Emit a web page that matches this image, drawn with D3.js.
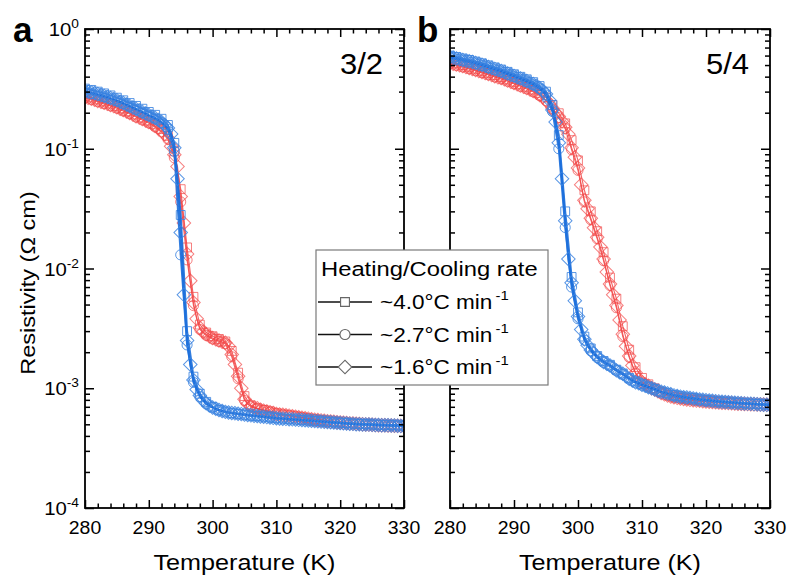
<!DOCTYPE html>
<html>
<head>
<meta charset="utf-8">
<script src="https://cdn.jsdelivr.net/npm/d3@7"></script>
<style>
  body { margin: 0; background: #fff; }
  svg { font-family: Arial, "Liberation Sans", Helvetica, sans-serif; }
</style>
</head>
<body>
<svg id="chart" width="790" height="578"></svg>
<script>
// Temperature grids (K) used by the measurements
const tempsFine = d3.range(280, 330.001, 0.5);   // ~1.6 °C/min runs
const tempsCoarse = d3.range(280, 330.001, 1);   // ~4.0 and ~2.7 °C/min runs

const xTicksMajor = [280, 290, 300, 310, 320, 330];
const yDecades = [-4, -3, -2, -1, 0];
const rateLabels = ["~4.0°C min", "~2.7°C min", "~1.6°C min"];
const panelNames = ["3/2", "5/4"];
const panelLetters = ["a", "b"];

// ---- Panel a (3/2): resistivity in Ω cm ----
const a_heat_sq = [0.276,0.268,0.258,0.248,0.238,0.228,0.217,0.205,0.193,0.182,
  0.172,0.160,0.146,0.128,0.095,0.046,0.0150,0.0058,0.0034,0.00292,
  2.72e-3,2.58e-3,2.46e-3,2.05e-3,1.35e-3,8.6e-4,7.2e-4,6.8e-4,6.6e-4,6.4e-4,
  6.2e-4,6.05e-4,5.95e-4,5.84e-4,5.73e-4,5.62e-4,5.52e-4,5.44e-4,5.36e-4,5.29e-4,
  5.22e-4,5.16e-4,5.1e-4,5.06e-4,5.02e-4,4.99e-4,4.96e-4,4.94e-4,4.92e-4,4.9e-4,
  4.88e-4];
const a_heat_ci = [0.265,0.258,0.248,0.238,0.228,0.218,0.207,0.196,0.184,0.174,
  0.164,0.152,0.138,0.120,0.084,0.036,0.0118,0.0049,0.0031,0.00276,
  2.58e-3,2.46e-3,2.36e-3,1.83e-3,1.20e-3,7.9e-4,7.0e-4,6.75e-4,6.55e-4,6.35e-4,
  6.12e-4,6.0e-4,5.9e-4,5.78e-4,5.67e-4,5.56e-4,5.46e-4,5.38e-4,5.3e-4,5.23e-4,
  5.17e-4,5.11e-4,5.06e-4,5.02e-4,4.98e-4,4.95e-4,4.92e-4,4.9e-4,4.88e-4,4.86e-4,
  4.84e-4];
const a_heat_di = [0.270,0.266,0.262,0.257,0.251,0.247,0.242,0.237,0.232,0.227,
  0.222,0.216,0.211,0.205,0.199,0.193,0.187,0.182,0.177,0.172,
  0.167,0.162,0.155,0.148,0.141,0.133,0.123,0.105,0.089,0.071,
  0.040,0.024,0.0132,0.0079,0.0052,0.0038,0.0032,0.00295,0.00282,0.00272,
  0.00263,0.00257,0.00251,0.00245,0.00240,0.00224,0.00191,0.00158,0.00126,0.00100,
  8.1e-4,7.4e-4,7.1e-4,6.9e-4,6.8e-4,6.6e-4,6.5e-4,6.4e-4,6.3e-4,6.2e-4,
  6.1e-4,6.05e-4,6.0e-4,5.95e-4,5.9e-4,5.84e-4,5.78e-4,5.73e-4,5.67e-4,5.62e-4,
  5.57e-4,5.52e-4,5.47e-4,5.43e-4,5.39e-4,5.35e-4,5.31e-4,5.27e-4,5.24e-4,5.21e-4,
  5.18e-4,5.15e-4,5.12e-4,5.09e-4,5.07e-4,5.05e-4,5.03e-4,5.01e-4,4.99e-4,4.97e-4,
  4.95e-4,4.94e-4,4.92e-4,4.91e-4,4.90e-4,4.89e-4,4.88e-4,4.87e-4,4.86e-4,4.85e-4,
  4.84e-4];
const a_cool_sq = [0.318,0.310,0.300,0.290,0.279,0.267,0.254,0.241,0.228,0.216,
  0.203,0.192,0.178,0.158,0.112,0.028,0.0030,0.00125,0.00090,0.00077,
  7.0e-4,6.6e-4,6.4e-4,6.2e-4,6.1e-4,6.0e-4,5.9e-4,5.85e-4,5.8e-4,5.72e-4,
  5.65e-4,5.6e-4,5.54e-4,5.49e-4,5.44e-4,5.39e-4,5.34e-4,5.3e-4,5.25e-4,5.2e-4,
  5.16e-4,5.12e-4,5.08e-4,5.05e-4,5.02e-4,5.0e-4,4.97e-4,4.95e-4,4.93e-4,4.91e-4,
  4.9e-4];
const a_cool_ci = [0.296,0.289,0.281,0.272,0.262,0.251,0.238,0.226,0.213,0.201,
  0.189,0.178,0.165,0.146,0.095,0.013,0.0023,0.00112,0.00085,0.00074,
  6.9e-4,6.55e-4,6.33e-4,6.2e-4,6.1e-4,6.0e-4,5.92e-4,5.84e-4,5.76e-4,5.68e-4,
  5.6e-4,5.55e-4,5.5e-4,5.45e-4,5.4e-4,5.35e-4,5.3e-4,5.25e-4,5.2e-4,5.16e-4,
  5.12e-4,5.08e-4,5.04e-4,5.0e-4,4.97e-4,4.94e-4,4.92e-4,4.9e-4,4.88e-4,4.86e-4,
  4.84e-4];
const a_cool_di = [0.303,0.299,0.295,0.291,0.286,0.281,0.276,0.271,0.265,0.259,
  0.254,0.247,0.241,0.234,0.228,0.221,0.215,0.209,0.203,0.197,
  0.191,0.186,0.181,0.174,0.167,0.158,0.149,0.133,0.102,0.0562,
  0.0200,0.00603,0.00251,0.00158,0.00117,9.77e-4,8.71e-4,7.94e-4,7.50e-4,7.16e-4,
  6.92e-4,6.73e-4,6.58e-4,6.46e-4,6.35e-4,6.28e-4,6.22e-4,6.17e-4,6.12e-4,6.08e-4,
  6.03e-4,5.98e-4,5.94e-4,5.90e-4,5.86e-4,5.82e-4,5.78e-4,5.74e-4,5.70e-4,5.66e-4,
  5.62e-4,5.60e-4,5.57e-4,5.55e-4,5.52e-4,5.50e-4,5.47e-4,5.45e-4,5.42e-4,5.40e-4,
  5.37e-4,5.35e-4,5.32e-4,5.30e-4,5.27e-4,5.25e-4,5.22e-4,5.20e-4,5.18e-4,5.15e-4,
  5.13e-4,5.11e-4,5.08e-4,5.06e-4,5.04e-4,5.01e-4,5.00e-4,4.99e-4,4.98e-4,4.97e-4,
  4.95e-4,4.94e-4,4.93e-4,4.92e-4,4.91e-4,4.90e-4,4.89e-4,4.88e-4,4.86e-4,4.85e-4,
  4.84e-4];

// ---- Panel b (5/4): resistivity in Ω cm ----
const b_heat_sq = [0.532,0.516,0.500,0.483,0.465,0.447,0.430,0.412,0.396,0.379,
  0.362,0.345,0.329,0.312,0.292,0.268,0.232,0.198,0.163,0.118,
  0.080,0.045,0.030,0.0205,0.0137,0.0084,0.0056,0.0033,0.0021,0.0015,
  1.22e-3,1.08e-3,1.0e-3,9.3e-4,8.8e-4,8.5e-4,8.3e-4,8.1e-4,8.0e-4,7.9e-4,
  7.82e-4,7.75e-4,7.68e-4,7.62e-4,7.56e-4,7.5e-4,7.46e-4,7.42e-4,7.39e-4,7.36e-4,
  7.33e-4];
const b_heat_ci = [0.512,0.497,0.482,0.466,0.449,0.432,0.415,0.398,0.383,0.366,
  0.349,0.332,0.316,0.299,0.278,0.252,0.215,0.182,0.147,0.098,
  0.066,0.036,0.0255,0.0177,0.0116,0.0072,0.0047,0.0027,0.00181,0.00133,
  1.11e-3,1.04e-3,9.7e-4,9.1e-4,8.7e-4,8.4e-4,8.2e-4,8.05e-4,7.93e-4,7.83e-4,
  7.75e-4,7.68e-4,7.61e-4,7.55e-4,7.5e-4,7.45e-4,7.4e-4,7.37e-4,7.34e-4,7.31e-4,
  7.28e-4];
const b_heat_di = [0.520,0.513,0.506,0.499,0.491,0.482,0.473,0.464,0.455,0.446,
  0.438,0.429,0.421,0.412,0.403,0.395,0.390,0.380,0.371,0.362,
  0.354,0.345,0.337,0.329,0.321,0.313,0.303,0.294,0.281,0.270,
  0.255,0.238,0.219,0.200,0.186,0.170,0.151,0.132,0.102,0.0851,
  0.0692,0.0501,0.0372,0.0316,0.0263,0.0219,0.0182,0.0151,0.0120,0.00933,
  7.41e-3,6.03e-3,4.90e-3,3.72e-3,2.82e-3,2.24e-3,1.86e-3,1.55e-3,1.35e-3,1.20e-3,
  1.12e-3,1.08e-3,1.05e-3,1.00e-3,9.77e-4,9.44e-4,9.12e-4,8.90e-4,8.71e-4,8.55e-4,
  8.41e-4,8.32e-4,8.22e-4,8.14e-4,8.06e-4,8.00e-4,7.94e-4,7.89e-4,7.85e-4,7.80e-4,
  7.76e-4,7.72e-4,7.68e-4,7.64e-4,7.61e-4,7.58e-4,7.55e-4,7.52e-4,7.49e-4,7.46e-4,
  7.43e-4,7.41e-4,7.39e-4,7.37e-4,7.35e-4,7.34e-4,7.33e-4,7.32e-4,7.31e-4,7.30e-4,
  7.29e-4];
const b_cool_sq = [0.600,0.584,0.567,0.552,0.535,0.517,0.497,0.478,0.459,0.439,
  0.419,0.399,0.380,0.360,0.334,0.300,0.232,0.130,0.030,0.0085,
  4.3e-3,2.7e-3,2.15e-3,1.86e-3,1.69e-3,1.57e-3,1.43e-3,1.33e-3,1.22e-3,1.14e-3,
  1.08e-3,1.03e-3,9.9e-4,9.4e-4,9.1e-4,8.8e-4,8.6e-4,8.4e-4,8.3e-4,8.1e-4,
  8.0e-4,7.9e-4,7.8e-4,7.75e-4,7.65e-4,7.6e-4,7.52e-4,7.46e-4,7.4e-4,7.35e-4,
  7.3e-4];
const b_cool_ci = [0.575,0.560,0.544,0.529,0.513,0.495,0.476,0.457,0.439,0.419,
  0.400,0.381,0.362,0.342,0.316,0.281,0.205,0.100,0.022,0.0070,
  3.8e-3,2.52e-3,2.05e-3,1.8e-3,1.64e-3,1.53e-3,1.4e-3,1.3e-3,1.19e-3,1.11e-3,
  1.06e-3,1.01e-3,9.7e-4,9.3e-4,9.0e-4,8.7e-4,8.5e-4,8.3e-4,8.2e-4,8.0e-4,
  7.9e-4,7.8e-4,7.72e-4,7.65e-4,7.58e-4,7.52e-4,7.46e-4,7.4e-4,7.35e-4,7.3e-4,
  7.25e-4];
const b_cool_di = [0.583,0.575,0.567,0.559,0.551,0.544,0.537,0.530,0.520,0.511,
  0.502,0.493,0.482,0.473,0.464,0.455,0.446,0.435,0.425,0.415,
  0.406,0.396,0.387,0.377,0.368,0.358,0.348,0.336,0.321,0.306,
  0.286,0.255,0.211,0.167,0.112,0.0562,0.0251,0.0120,0.00759,0.00537,
  0.00398,0.00309,0.00257,0.00229,0.00209,0.00195,0.00182,0.00174,0.00166,0.00160,
  1.55e-3,1.48e-3,1.41e-3,1.36e-3,1.32e-3,1.26e-3,1.20e-3,1.16e-3,1.12e-3,1.10e-3,
  1.07e-3,1.05e-3,1.02e-3,1.00e-3,9.77e-4,9.55e-4,9.33e-4,9.20e-4,9.02e-4,8.90e-4,
  8.71e-4,8.61e-4,8.51e-4,8.43e-4,8.36e-4,8.28e-4,8.20e-4,8.13e-4,8.06e-4,8.00e-4,
  7.94e-4,7.89e-4,7.85e-4,7.80e-4,7.76e-4,7.72e-4,7.68e-4,7.64e-4,7.60e-4,7.57e-4,
  7.54e-4,7.50e-4,7.47e-4,7.44e-4,7.41e-4,7.38e-4,7.35e-4,7.32e-4,7.29e-4,7.27e-4,
  7.24e-4];

const svg = d3.select("#chart");
const plotTop = 29, plotBottom = 508;

const heatColor = "#f24848";
const coolColor = "#3d85e0";
const coolLine = "#1c6fdc";

const y = d3.scaleLog().domain([1e-4, 1]).range([plotBottom, plotTop]);

const markerPath = {
  square: d3.symbol().type(d3.symbolSquare).size(78)(),
  circle: d3.symbol().type(d3.symbolCircle).size(80)(),
  diamond: d3.symbol().type(d3.symbolSquare).size(92)()
};
const markerRotate = { square: 0, circle: 0, diamond: 45 };

// text placed at (x, y) and widened horizontally by sx
function wideText(parent, x, yPos, size, sx, anchor) {
  return parent.append("text")
    .attr("transform", `translate(${x},${yPos}) scale(${sx},1)`)
    .attr("font-size", size)
    .attr("text-anchor", anchor || "start");
}

const panels = [
  { left: 85, right: 404, labels: true, letterX: 13,
    series: [
      { t: tempsCoarse, v: a_heat_sq, m: "square", heat: true },
      { t: tempsCoarse, v: a_heat_ci, m: "circle", heat: true },
      { t: tempsFine, v: a_heat_di, m: "diamond", heat: true },
      { t: tempsCoarse, v: a_cool_sq, m: "square", heat: false },
      { t: tempsCoarse, v: a_cool_ci, m: "circle", heat: false },
      { t: tempsFine, v: a_cool_di, m: "diamond", heat: false }
    ] },
  { left: 450, right: 770, labels: false, letterX: 417,
    series: [
      { t: tempsCoarse, v: b_heat_sq, m: "square", heat: true },
      { t: tempsCoarse, v: b_heat_ci, m: "circle", heat: true },
      { t: tempsFine, v: b_heat_di, m: "diamond", heat: true },
      { t: tempsCoarse, v: b_cool_sq, m: "square", heat: false },
      { t: tempsCoarse, v: b_cool_ci, m: "circle", heat: false },
      { t: tempsFine, v: b_cool_di, m: "diamond", heat: false }
    ] }
];

const minorY = [];
yDecades.slice(0, -1).forEach(d => { for (let k = 2; k <= 9; k++) minorY.push(k * Math.pow(10, d)); });
const minorX = d3.range(282, 330, 2).filter(v => v % 10 !== 0);

panels.forEach((p, pi) => {
  const x = d3.scaleLinear().domain([280, 330]).range([p.left, p.right]);
  const g = svg.append("g");

  // clip so markers stay inside the frame
  const clipId = "clip" + pi;
  svg.append("clipPath").attr("id", clipId).append("rect")
    .attr("x", p.left).attr("y", plotTop).attr("width", p.right - p.left).attr("height", plotBottom - plotTop);

  const data = g.append("g").attr("clip-path", `url(#${clipId})`);
  p.series.forEach(s => {
    const pts = s.t.map((t, i) => [t, s.v[i]]);
    const line = d3.line().x(d => x(d[0])).y(d => y(d[1]));
    data.append("path").datum(pts)
      .attr("d", line)
      .attr("fill", "none")
      .attr("stroke", s.heat ? heatColor : coolLine)
      .attr("stroke-width", s.heat ? 1.1 : 2)
      .attr("stroke-opacity", s.heat ? 0.85 : 0.9);
    data.append("g").selectAll("path").data(pts).join("path")
      .attr("d", markerPath[s.m])
      .attr("transform", d => `translate(${x(d[0])},${y(d[1])}) rotate(${markerRotate[s.m]})`)
      .attr("fill", "none")
      .attr("stroke", s.heat ? heatColor : coolColor)
      .attr("stroke-width", 1.0)
      .attr("stroke-opacity", s.heat ? 0.7 : 0.85);
  });

  // ticks: all inward, on all four sides
  const axes = g.append("g").attr("class", "axes");
  const addAxis = (gen, tx, ty) => {
    const a = axes.append("g").attr("transform", `translate(${tx},${ty})`).call(gen);
    a.select(".domain").remove();
    a.selectAll(".tick line").attr("stroke", "#000").attr("stroke-width", 1.5);
    a.selectAll(".tick text").remove();
    return a;
  };
  addAxis(d3.axisBottom(x).tickValues(xTicksMajor).tickSize(-8), 0, plotBottom);
  addAxis(d3.axisBottom(x).tickValues(minorX).tickSize(-4.5), 0, plotBottom);
  addAxis(d3.axisTop(x).tickValues(xTicksMajor).tickSize(-8), 0, plotTop);
  addAxis(d3.axisTop(x).tickValues(minorX).tickSize(-4.5), 0, plotTop);
  const yMaj = yDecades.map(d => Math.pow(10, d));
  addAxis(d3.axisLeft(y).tickValues(yMaj).tickSize(-9), p.left, 0);
  addAxis(d3.axisLeft(y).tickValues(minorY).tickSize(-5), p.left, 0);
  addAxis(d3.axisRight(y).tickValues(yMaj).tickSize(-9), p.right, 0);
  addAxis(d3.axisRight(y).tickValues(minorY).tickSize(-5), p.right, 0);

  g.append("rect")
    .attr("x", p.left).attr("y", plotTop)
    .attr("width", p.right - p.left).attr("height", plotBottom - plotTop)
    .attr("fill", "none").attr("stroke", "#000").attr("stroke-width", 1.8);

  // x tick labels
  xTicksMajor.forEach(v => {
    wideText(g, x(v), 534, 18.5, 1.05, "middle").text(v);
  });

  // y tick labels with superscript exponents
  if (p.labels) {
    yDecades.forEach(d => {
      const t = wideText(g, p.left - 6, y(Math.pow(10, d)) + 7, 18.5, 1.1, "end");
      t.append("tspan").text("10");
      t.append("tspan").attr("dy", -8).attr("font-size", 12.5).text(d);
    });
  }

  // x axis title
  wideText(g, (p.left + p.right) / 2, 570, 22.5, 1.12, "middle").text("Temperature (K)");

  // composition label
  wideText(g, p.right - 21, 74, 29.5, 1.05, "end").text(panelNames[pi]);

  // panel letter
  wideText(g, p.letterX, 42, 35, 1.0, "start").attr("font-weight", "bold").text(panelLetters[pi]);
});

// y axis title
svg.append("text")
  .attr("transform", "translate(35,283) rotate(-90) scale(1.12,1)")
  .attr("text-anchor", "middle").attr("font-size", 21)
  .text("Resistivity (Ω cm)");

// legend
const lg = svg.append("g");
lg.append("rect").attr("x", 316).attr("y", 250).attr("width", 232).attr("height", 135)
  .attr("fill", "#fff").attr("stroke", "#7a7a7a").attr("stroke-width", 1.2);
wideText(lg, 321, 276, 20.5, 1.16, "start").text("Heating/Cooling rate");
const legendMarkers = ["square", "circle", "diamond"];
rateLabels.forEach((lab, i) => {
  const cy = 302 + i * 32.5;
  lg.append("line").attr("x1", 318).attr("x2", 372).attr("y1", cy).attr("y2", cy)
    .attr("stroke", "#111").attr("stroke-width", 1.6);
  lg.append("path").attr("d", markerPath[legendMarkers[i]])
    .attr("transform", `translate(345,${cy}) rotate(${markerRotate[legendMarkers[i]]})`)
    .attr("fill", "#fff").attr("stroke", "#666").attr("stroke-width", 1.1);
  const t = wideText(lg, 380, cy + 7, 20.5, 1.1, "start");
  t.append("tspan").text(lab);
  t.append("tspan").attr("dx", 3).attr("dy", -9).attr("font-size", 13.5).text("-1");
});
</script>
</body>
</html>
